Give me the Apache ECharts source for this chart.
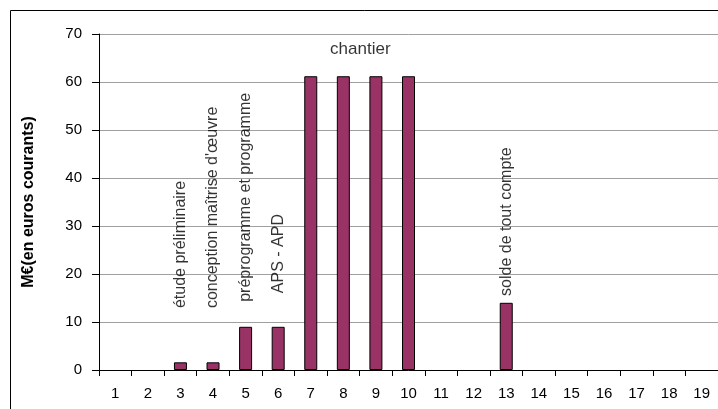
<!DOCTYPE html>
<html>
<head>
<meta charset="utf-8">
<script src="https://cdn.jsdelivr.net/npm/echarts@6/dist/echarts.min.js"></script>
<style>
  html, body { margin: 0; padding: 0; background: #fff; }
  #chart { width: 718px; height: 409px; }
</style>
</head>
<body>
<div id="chart"></div>
<script>
// Phases of the project, yearly spending (M€, current euros)
const years = ['1','2','3','4','5','6','7','8','9','10','11','12','13','14','15','16','17','18','19'];
const spending = [0, 0, 1.6, 1.6, 9, 9, 61.2, 61.2, 61.2, 61.2, 0, 0, 14, 0, 0, 0, 0, 0, 0];

// Phase captions and the year each one sits over
const phaseNames = ['étude préliminaire', "conception maîtrise d'œuvre", 'préprogramme et programme', 'APS - APD', 'solde de tout compte'];
const phaseYears = ['3', '4', '5', '6', '13'];
const worksName = 'chantier';
const worksYear = '8';

const yTitle = 'M€(en euros courants)';

// Height (axis units) where each vertical caption begins
const captionBase = [12.9, 12.9, 14.2, 16.0, 17.1];
const captionShift = [0, 0, 0, 0, -8];

const FONT = '"Liberation Sans", Arial, sans-serif';

const chart = echarts.init(document.getElementById('chart'), null, { renderer: 'canvas' });

// Empty years leave no outline on the axis
const barData = spending.map(v => v === 0
  ? { value: v, itemStyle: { borderWidth: 0, opacity: 0 } }
  : { value: v });

const captionData = phaseNames.map((name, i) => ({
  name: name,
  value: [phaseYears[i], captionBase[i]],
  label: { offset: [captionShift[i], 0] }
}));

chart.setOption({
  animation: false,
  backgroundColor: '#ffffff',
  graphic: [{
    type: 'rect',
    silent: true,
    shape: { x: 10.5, y: 10.5, width: 740, height: 440 },
    style: { fill: 'none', stroke: '#000', lineWidth: 1 }
  }],
  grid: { left: 99, top: 34, width: 620, height: 336, containLabel: false },
  xAxis: {
    type: 'category',
    data: years,
    boundaryGap: true,
    axisLine: { lineStyle: { color: '#000', width: 1 } },
    axisTick: { show: true, length: 6, inside: false, alignWithLabel: false, lineStyle: { color: '#000' } },
    axisLabel: { color: '#000', fontFamily: FONT, fontSize: 15, margin: 16, interval: 0 },
    splitLine: { show: false }
  },
  yAxis: {
    type: 'value',
    min: 0,
    max: 70,
    interval: 10,
    name: yTitle,
    nameLocation: 'middle',
    nameRotate: 90,
    nameGap: 62,
    nameTextStyle: { color: '#000', fontFamily: FONT, fontSize: 16, fontWeight: 'bold' },
    axisLine: { show: true, lineStyle: { color: '#000', width: 1 } },
    axisTick: { show: true, length: 7, inside: false, lineStyle: { color: '#000' } },
    axisLabel: { color: '#000', fontFamily: FONT, fontSize: 15, margin: 17 },
    splitLine: { show: true, lineStyle: { color: '#a0a0a0', width: 1 } }
  },
  series: [
    {
      type: 'bar',
      data: barData,
      barWidth: 13,
      itemStyle: { color: '#993366', borderColor: '#000', borderWidth: 1 },
      silent: true
    },
    {
      type: 'scatter',
      data: captionData,
      symbolSize: 0,
      silent: true,
      z: 5,
      label: {
        show: true,
        position: 'inside',
        rotate: 90,
        align: 'left',
        verticalAlign: 'middle',
        formatter: p => p.name,
        color: '#000',
        fontFamily: FONT,
        fontSize: 16
      }
    },
    {
      type: 'scatter',
      data: [{ name: worksName, value: [worksYear, 66.9] }],
      symbolSize: 0,
      silent: true,
      z: 5,
      label: {
        show: true,
        position: 'inside',
        offset: [17, 0],
        align: 'center',
        verticalAlign: 'middle',
        formatter: p => p.name,
        color: '#000',
        fontFamily: FONT,
        fontSize: 17
      }
    }
  ]
});
</script>
</body>
</html>
